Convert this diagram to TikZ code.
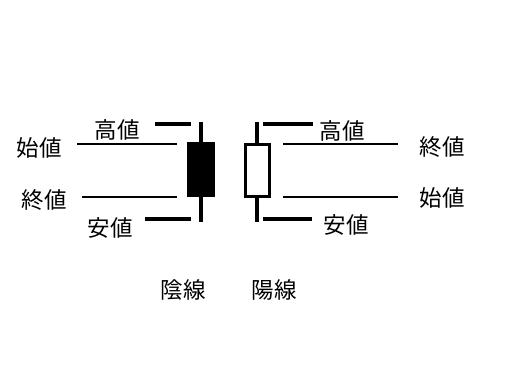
\documentclass[tikz,border=0pt]{standalone}
\usepackage{fontspec}
\newfontfamily\cjk{Noto Sans CJK JP}
\begin{document}
\begin{tikzpicture}[x=1pt,y=-1pt,
  lbl/.style={font=\cjk\fontsize{22.5}{22.5}\selectfont, inner sep=0pt},
  wick/.style={line width=3.5pt},
  tick/.style={line width=4pt},
  thin/.style={line width=1.3pt}]
\useasboundingbox (0,0) rectangle (512,384);
% left (bearish) candle
\draw[wick] (201,122) coordinate (lwt) -- (201,222) coordinate (lwb);
\node[draw, fill=black, line width=1pt, minimum width=27pt, minimum height=54pt, inner sep=0pt] (lbody) at (201,169.5) {};
\draw[tick] (155,124) coordinate (lht) -- (191,124);
\draw[tick] (145,219) coordinate (llt) -- (191,219);
\draw[thin] (77,144) coordinate (lo) -- (177,144);
\draw[thin] (82,197) coordinate (lc) -- (177,197);
% right (bullish) candle
\draw[wick] (257,122) coordinate (rwt) -- (257,143);
\draw[wick] (257,197) -- (257,222) coordinate (rwb);
\node[draw, fill=white, line width=3pt, minimum width=24pt, minimum height=52pt, inner sep=0pt] (rbody) at (257,170) {};
\draw[tick] (263,124) -- (313,124) coordinate (rht);
\draw[tick] (263,219) -- (312,219) coordinate (rlt);
\draw[thin] (283,144) -- (398,144) coordinate (rc);
\draw[thin] (283,197) -- (398,197) coordinate (ro);
% labels
\node[lbl] (lhigh) at (117,130) {高値};
\node[lbl] (lopen) at (39,148) {始値};
\node[lbl] (lclose) at (44,200) {終値};
\node[lbl] (llow) at (110,228) {安値};
\node[lbl] (rhigh) at (342,131) {高値};
\node[lbl] (rclose) at (442,147) {終値};
\node[lbl] (ropen) at (442,198) {始値};
\node[lbl] (rlow) at (346,225) {安値};
\node[lbl] (bear) at (183,290) {陰線};
\node[lbl] (bull) at (274,290) {陽線};
\end{tikzpicture}
\end{document}
